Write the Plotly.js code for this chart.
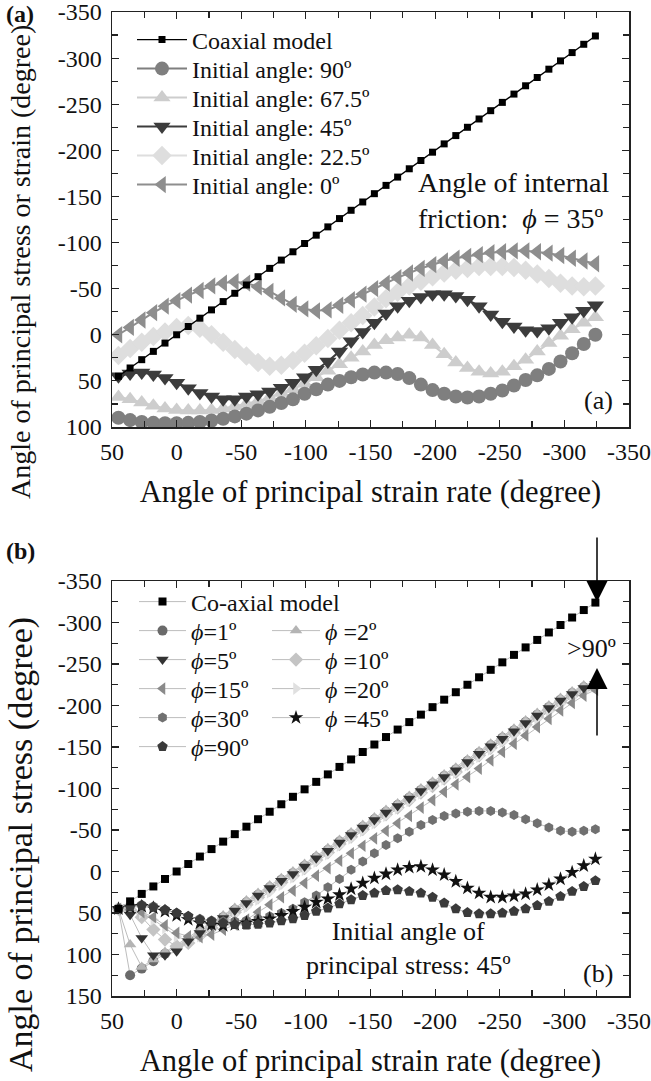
<!DOCTYPE html>
<html><head><meta charset="utf-8">
<script src="https://cdn.plot.ly/plotly-3.0.1.min.js"></script>
<style>html,body{margin:0;padding:0;background:#fff}#chart{width:651px;height:1081px}</style>
</head><body><div id="chart"></div>
<script>
// ---------- data ----------
const xStrainRate = [45,36,27,18,9,0,-9,-18,-27,-36,-45,-54,-63,-72,-81,-90,-99,-108,-117,-126,-135,-144,-153,-162,-171,-180,-189,-198,-207,-216,-225,-234,-243,-252,-261,-270,-279,-288,-297,-306,-315,-324];
const coaxialStress = [45,36,27,18,9,0,-9,-18,-27,-36,-45,-54,-63,-72,-81,-90,-99,-108,-117,-126,-135,-144,-153,-162,-171,-180,-189,-198,-207,-216,-225,-234,-243,-252,-261,-270,-279,-288,-297,-306,-315,-324];

// panel (a): initial angle series, friction angle 35
const init90 = [90,92.5,94.5,95.5,96,96,95.5,94.5,93,91,88.5,85.5,82,78,74,70,64,59,54,50,46,43,41,41,42.5,47,54,60,64,67,68,67,64,60.5,55,49,44,37,29,20,10,0];
const init67 = [67.5,70,73.5,77,80,81.5,82,82,81.5,80,77.5,75,72,68,63,59,53,46,39,32,25,18,11,6,3,0,3,11,21,30,36,40,42,40,34,27,18,9,1,-6,-13,-19];
const init45 = [45,42,41,43,47,52,58,63,67,70,70,67,64.5,61.5,57.5,52,46,38,29,18,7,-3,-13,-23,-31,-37,-41,-44,-44,-42,-38,-31,-22,-14,-9,-5,-4,-7,-13,-19,-26,-32];
const init22 = [22.5,15,8,2,-3,-8,-10,-7,0,8,16,23,30,34,33,28,20,12,4,-5,-13,-21,-30,-39,-46,-53,-58,-63,-67,-70,-72,-74,-74,-74,-73,-70,-66,-61,-56,-53,-52,-53];
const init0 = [0,-8,-16,-24,-31,-37,-43,-48,-53,-56,-57.5,-56,-52,-47,-40,-33,-28,-26,-27,-32,-38,-44,-50,-56,-62,-67,-72,-76,-80,-83,-85,-87,-89,-90,-91,-91,-90,-88.5,-86,-83,-80,-77];

// panel (b): friction angle series, initial angle 45
const phi1 = [45,125,117,108,99,91,82,73,64,55,46,37,28,19,10,2,-7,-17,-26,-36,-45,-54,-63,-72,-80,-89,-98,-106,-115,-123,-133,-143,-152,-161,-170,-180,-189,-198,-207,-215,-222,-227];
const phi2 = [45,88,115,106,97,89,80,71,62,53,44,35,26,17,8,0,-9,-19,-28,-38,-47,-56,-65,-74,-82,-91,-100,-108,-117,-125,-135,-145,-154,-163,-172,-182,-191,-200,-209,-217,-224,-229];
const phi5 = [45,52,80,101,101,96,84,74,65,56,47,38,29,20,11,3,-6,-16,-25,-35,-44,-53,-62,-71,-79,-88,-97,-105,-114,-122,-132,-142,-151,-160,-169,-179,-188,-197,-206,-214,-221,-226];
const phi10 = [45,46,55,70,82,90,86,77,68,58,49,40,31,22,13,5,-4,-14,-23,-33,-42,-51,-60,-69,-77,-86,-95,-103,-112,-120,-130,-140,-149,-158,-167,-177,-186,-195,-204,-212,-219,-224];
const phi15 = [45,46,49,55,65,74,78,79,76,70,64,58,49,40,31,23,14,5,-4,-13,-22,-31,-40,-49,-58,-67,-77,-86,-96,-105,-114,-124,-134,-144,-154,-164,-174,-184,-194,-203,-212,-219];
const phi20 = [45,45,50,58,68,78,84,78,70,60,52,43,34,25,16,7,-2,-12,-21,-31,-40,-49,-58,-67,-76,-85,-94,-103,-111,-119,-128,-138,-147,-156,-165,-175,-184,-193,-202,-210,-217,-222];
const phi30 = [45,42,40,42,46,50,54,57,59,60,60,59,57,54,50,45,37,29,19,9,-2,-12,-22,-32,-40,-48,-56,-62,-67,-70,-72,-73,-73,-71,-68,-63,-58,-53,-49,-48,-49,-51];
const phi45 = [45,43,42,44,48,53,58,62,64,65,64,62,60,57,53,48,43,37,33,28,21,14,8,3,-2,-5,-6,-2,4,12,20,26,31,31,29.5,27,22,16,9,1,-7,-15];
const phi90 = [45,42,41,43,46,50,54,58,60,62,64,64.5,63.5,62,59.5,57,53,48,44,39,34,29,26,23,22,24,26,31,38,45,49.5,51,51,50,48,45,41,36,30,24,18,11];

// ticks
const xTicks = [50,0,-50,-100,-150,-200,-250,-300,-350];
const yTicksA = [-350,-300,-250,-200,-150,-100,-50,0,50,100];
const yTicksB = [-350,-300,-250,-200,-150,-100,-50,0,50,100,150];

// ---------- helpers ----------
const W = 651, H = 1081;
const px = v => v / W;
const py = v => 1 - v / H;
const FONT = '"Liberation Serif", "Times New Roman", serif';

const traces = [];
function addTrace(y, name, symbol, color, size, lineColor, lineWidth, xa, ya, leg) {
  traces.push({
    x: xStrainRate, y: y, name: name, type: 'scatter', mode: 'lines+markers',
    xaxis: xa, yaxis: ya, legend: leg,
    marker: {symbol: symbol, color: color, size: size, line: {width: 0}},
    line: {color: lineColor, width: lineWidth},
    hoverinfo: 'skip'
  });
}

// panel (a)
addTrace(init67, 'Initial angle: 67.5º', 'triangle-up', '#cdcdcd', 15, '#cdcdcd', 2, 'x', 'y', 'legend3');
addTrace(init22, 'Initial angle: 22.5º', 'diamond', '#dedede', 15, '#dedede', 2, 'x', 'y', 'legend5');
addTrace(init90, 'Initial angle: 90º', 'circle', '#7f7f7f', 14, '#7f7f7f', 2, 'x', 'y', 'legend2');
addTrace(init0, 'Initial angle: 0º', 'triangle-left', '#8e8e8e', 15, '#8e8e8e', 2, 'x', 'y', 'legend6');
addTrace(init45, 'Initial angle: 45º', 'triangle-down', '#3c3c3c', 15, '#3c3c3c', 2, 'x', 'y', 'legend4');
addTrace(coaxialStress, 'Coaxial model', 'square', '#000', 7, '#000', 1.3, 'x', 'y', 'legend');

// panel (b)
const gl = '#bdbdbd';
addTrace(phi1, '<i>ϕ</i>=1º', 'circle', '#6a6a6a', 10, gl, 1, 'x2', 'y2', 'legend8');
addTrace(phi2, '<i>ϕ</i> =2º', 'triangle-up', '#b4b4b4', 11, gl, 1, 'x2', 'y2', 'legend13');
addTrace(phi10, '<i>ϕ</i> =10º', 'diamond', '#c4c4c4', 11, gl, 1, 'x2', 'y2', 'legend14');
addTrace(phi20, '<i>ϕ</i> =20º', 'triangle-right', '#e0e0e0', 11, gl, 1, 'x2', 'y2', 'legend15');
addTrace(phi15, '<i>ϕ</i>=15º', 'triangle-left', '#8a8a8a', 11, gl, 1, 'x2', 'y2', 'legend10');
addTrace(phi5, '<i>ϕ</i>=5º', 'triangle-down', '#333', 11, gl, 1, 'x2', 'y2', 'legend9');
addTrace(phi30, '<i>ϕ</i>=30º', 'hexagon', '#707070', 10, gl, 1, 'x2', 'y2', 'legend11');
addTrace(phi45, '<i>ϕ</i> =45º', 'star', '#111', 11, gl, 1, 'x2', 'y2', 'legend16');
addTrace(phi90, '<i>ϕ</i>=90º', 'pentagon', '#3a3a3a', 11, gl, 1, 'x2', 'y2', 'legend12');
addTrace(coaxialStress, 'Co-axial model', 'square', '#000', 8, gl, 1, 'x2', 'y2', 'legend7');

// ---------- axes ----------
const axisCommon = {
  showline: true, linewidth: 1.5, linecolor: '#222', mirror: 'allticks',
  ticks: 'inside', ticklen: 7, tickwidth: 1.2, tickcolor: '#222',
  showgrid: false, zeroline: false, ticklabeloverflow: 'allow',
  tickfont: {family: FONT, size: 24, color: '#111'},
  minor: {tickmode: 'linear', tick0: 0, dtick: 25, ticks: 'inside', ticklen: 6, tickwidth: 1.2, tickcolor: '#222', showgrid: false}
};
const xDomain = [px(112), px(629)];
function xAxis(anchor) {
  return Object.assign({}, axisCommon, {
    domain: xDomain, anchor: anchor, range: [50, -350], autorange: false,
    tickmode: 'array', tickvals: xTicks, ticktext: xTicks.map(String), ticklabelstandoff: 3,
    title: {text: 'Angle of principal strain rate (degree)', font: {family: FONT, size: 30.5, color: '#111'}, standoff: 16}
  });
}
function yAxis(anchor, dom, rng, tv) {
  return Object.assign({}, axisCommon, {
    domain: dom, anchor: anchor, range: rng, autorange: false, ticklabelstandoff: 4,
    tickmode: 'array', tickvals: tv, ticktext: tv.map(String)
  });
}

const layout = {
  width: W, height: H, margin: {l: 0, r: 0, t: 0, b: 0, autoexpand: false},
  paper_bgcolor: '#fff', plot_bgcolor: '#fff',
  font: {family: FONT, color: '#111'},
  showlegend: true,
  xaxis: xAxis('y'),
  yaxis: yAxis('x', [py(427), py(12)], [100, -350], yTicksA),
  xaxis2: xAxis('y2'),
  yaxis2: yAxis('x2', [py(996), py(581)], [150, -350], yTicksB),
  annotations: []
};

// legends: one per entry so rows sit where the reference has them
function legendAt(xLeft, yCenter, iw) {
  return {x: px(xLeft), y: py(yCenter), xanchor: 'left', yanchor: 'middle', xref: 'paper', yref: 'paper',
    bgcolor: 'rgba(0,0,0,0)', borderwidth: 0, itemwidth: iw, itemsizing: 'trace',
    font: {family: FONT, size: 24, color: '#111'}};
}
const rowsA = [40, 69, 98, 127, 156, 185];
layout.legend = legendAt(132, rowsA[0], 50);
['legend2','legend3','legend4','legend5','legend6'].forEach((k, i) => layout[k] = legendAt(132, rowsA[i + 1], 50));
const rowsB = [602, 631, 660, 689, 718, 747];
['legend7','legend8','legend9','legend10','legend11','legend12'].forEach((k, i) => layout[k] = legendAt(134, rowsB[i], 47));
['legend13','legend14','legend15','legend16'].forEach((k, i) => layout[k] = legendAt(267, rowsB[i + 1], 48));

const ann = layout.annotations;
function txt(t, x, y, size, xanchor, extra) {
  ann.push(Object.assign({text: t, x: px(x), y: py(y), xref: 'paper', yref: 'paper', showarrow: false,
    xanchor: xanchor || 'center', yanchor: 'middle', font: {family: FONT, size: size, color: '#111'}}, extra || {}));
}
txt('<b>(a)</b>', 20, 14, 24);
txt('<b>(b)</b>', 20, 551, 24);
txt('Angle of internal<br>friction:  <i>ϕ</i> = 35º', 416, 200, 28, 'left', {align: 'left'});
txt('(a)', 598, 401, 26);
txt('>90º', 591, 648, 26);
txt('Initial angle of<br>principal stress: 45º', 408, 948, 26, 'center', {align: 'center'});
txt('(b)', 598, 973, 26);
txt('Angle of principal stress or strain (degree)', 21, 262, 28, 'center', {textangle: -90});
txt('Angle of principal stress (degree)', 21, 845, 34, 'center', {textangle: -90});
// arrows pointing at the gap between co-axial model and the friction curves
ann.push({text: '', x: px(597), y: py(602), xref: 'paper', yref: 'paper', showarrow: true,
  ax: 0, ay: -66, arrowhead: 2, arrowsize: 2.8, arrowwidth: 1.5, arrowcolor: '#000', standoff: 0});
ann.push({text: '', x: px(597), y: py(668), xref: 'paper', yref: 'paper', showarrow: true,
  ax: 0, ay: 69, arrowhead: 2, arrowsize: 2.8, arrowwidth: 1.5, arrowcolor: '#000', standoff: 0});

Plotly.newPlot('chart', traces, layout, {displayModeBar: false, staticPlot: true});
</script>
</body></html>
